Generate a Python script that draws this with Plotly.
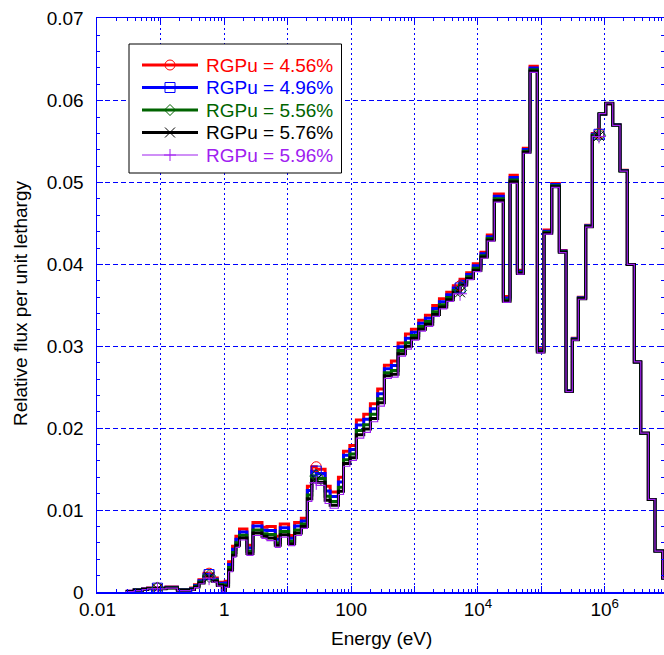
import plotly.graph_objects as go

# group boundaries, log10(E / eV)
log_energy_bounds = [-1.555, -1.42, -1.29, -1.21, -1.055, -0.92, -0.74, -0.53, -0.47, -0.40,
                     -0.32, -0.24, -0.19, -0.11, -0.03, 0.014, 0.067, 0.130, 0.183, 0.240,
                     0.357, 0.452, 0.594, 0.673, 0.804, 0.883, 1.014, 1.109, 1.215, 1.31,
                     1.38, 1.45, 1.59, 1.67, 1.80, 1.88, 1.98, 2.083, 2.199, 2.304,
                     2.419, 2.525, 2.635, 2.741, 2.857, 2.951, 3.066, 3.172, 3.287, 3.393,
                     3.508, 3.612, 3.718, 3.823, 3.927, 4.048, 4.148, 4.259, 4.401, 4.507,
                     4.622, 4.716, 4.822, 4.937, 5.043, 5.164, 5.284, 5.39, 5.489, 5.584,
                     5.700, 5.804, 5.910, 6.016, 6.126, 6.241, 6.356, 6.467, 6.568, 6.688,
                     6.793, 6.914, 7.30]

rgpu_456 = [0.0001, 0.0003, 0.0004, 0.0005, 0.0005, 0.0006, 0.0003, 0.0005, 0.0009, 0.0015,
            0.0023, 0.0022, 0.0017, 0.0012, 0.0003, 0.0013, 0.0037, 0.0056, 0.0068, 0.0077,
            0.0057, 0.0085, 0.0079, 0.0080, 0.0068, 0.0083, 0.0069, 0.0085, 0.0090, 0.0129,
            0.0153, 0.0150, 0.0129, 0.0122, 0.0140, 0.0172, 0.0179, 0.0210, 0.0217, 0.0230,
            0.0248, 0.0277, 0.0282, 0.0304, 0.0315, 0.0321, 0.0332, 0.0338, 0.0350, 0.0358,
            0.0366, 0.0374, 0.0382, 0.0390, 0.0401, 0.0415, 0.0436, 0.0486, 0.0361, 0.0509,
            0.0393, 0.0542, 0.0642, 0.0297, 0.0442, 0.0499, 0.0417, 0.0246, 0.0310, 0.0360,
            0.0448, 0.0560, 0.0583, 0.0596, 0.0571, 0.0515, 0.0400, 0.0281, 0.0194, 0.0113,
            0.0050, 0.0017]

rgpu_496 = [0.00008, 0.00027, 0.00037, 0.00047, 0.00047, 0.00057, 0.00027, 0.00043, 0.00080, 0.00136,
            0.00213, 0.00203, 0.00156, 0.00106, 0.00023, 0.00110, 0.00336, 0.00523, 0.00643, 0.00733,
            0.00536, 0.00806, 0.00753, 0.00752, 0.00643, 0.00786, 0.00656, 0.00806, 0.00866, 0.01239,
            0.01476, 0.01446, 0.01232, 0.01166, 0.01342, 0.01669, 0.01739, 0.02039, 0.02109, 0.02239,
            0.02422, 0.02726, 0.02766, 0.02996, 0.03099, 0.03173, 0.03283, 0.03343, 0.03463, 0.03546,
            0.03629, 0.03713, 0.03796, 0.03876, 0.03983, 0.04130, 0.04340, 0.04833, 0.03590, 0.05063,
            0.03916, 0.05403, 0.06400, 0.02956, 0.04406, 0.04976, 0.04163, 0.02457, 0.03093, 0.03593,
            0.04473, 0.05590, 0.05834, 0.05963, 0.05707, 0.05147, 0.0400, 0.0281, 0.0194, 0.0113,
            0.0050, 0.0017]

rgpu_556 = [0.00006, 0.00023, 0.00033, 0.00043, 0.00043, 0.00053, 0.00023, 0.00036, 0.00069, 0.00122,
            0.00195, 0.00185, 0.00142, 0.00092, 0.00016, 0.00087, 0.00299, 0.00482, 0.00602, 0.00692,
            0.00499, 0.00758, 0.00712, 0.00701, 0.00602, 0.00738, 0.00619, 0.00758, 0.00829, 0.01184,
            0.01416, 0.01386, 0.01169, 0.01106, 0.01279, 0.01614, 0.01684, 0.01972, 0.02042, 0.02172,
            0.02359, 0.02678, 0.02706, 0.02948, 0.03044, 0.03132, 0.03242, 0.03302, 0.03422, 0.03509,
            0.03596, 0.03683, 0.03770, 0.03850, 0.03953, 0.04107, 0.04317, 0.04803, 0.03567, 0.05033,
            0.03902, 0.05384, 0.06377, 0.02942, 0.04392, 0.04962, 0.04156, 0.02453, 0.03086, 0.03586,
            0.04466, 0.05579, 0.05837, 0.05967, 0.05703, 0.05143, 0.0400, 0.0281, 0.0194, 0.0113,
            0.0050, 0.0017]

rgpu_576 = [0.00005, 0.0002, 0.0003, 0.0004, 0.0004, 0.0005, 0.0002, 0.0003, 0.0006, 0.0011,
            0.0018, 0.0017, 0.0013, 0.0008, 0.0001, 0.0007, 0.0027, 0.0045, 0.0057, 0.0066,
            0.0047, 0.0072, 0.0068, 0.0066, 0.0057, 0.0070, 0.0059, 0.0072, 0.0080, 0.0114,
            0.0137, 0.0134, 0.0112, 0.0106, 0.0123, 0.0157, 0.0164, 0.0192, 0.0199, 0.0212,
            0.0231, 0.0264, 0.0266, 0.0291, 0.0300, 0.0310, 0.0321, 0.0327, 0.0339, 0.0348,
            0.0357, 0.0366, 0.0375, 0.0383, 0.0393, 0.0409, 0.0430, 0.0478, 0.0355, 0.0501,
            0.0389, 0.0537, 0.0636, 0.0293, 0.0438, 0.0495, 0.0415, 0.0245, 0.0308, 0.0358,
            0.0446, 0.0557, 0.0584, 0.0597, 0.0570, 0.0514, 0.0400, 0.0281, 0.0194, 0.0113,
            0.0050, 0.0017]

rgpu_596 = [0.00004, 0.00018, 0.00028, 0.00038, 0.00038, 0.00048, 0.00018, 0.00025, 0.00054, 0.00101,
            0.00169, 0.00159, 0.00121, 0.00071, 0.00005, 0.00056, 0.00247, 0.00425, 0.00545, 0.00635,
            0.00447, 0.00690, 0.00655, 0.00628, 0.00545, 0.00670, 0.00567, 0.00690, 0.00777, 0.01106,
            0.01333, 0.01303, 0.01081, 0.01023, 0.01191, 0.01536, 0.01606, 0.01879, 0.01949, 0.02079,
            0.02271, 0.02610, 0.02623, 0.02880, 0.02966, 0.03075, 0.03185, 0.03245, 0.03365, 0.03457,
            0.03549, 0.03642, 0.03734, 0.03814, 0.03912, 0.04076, 0.04286, 0.04762, 0.03536, 0.04992,
            0.03881, 0.05358, 0.06346, 0.02921, 0.04371, 0.04941, 0.04145, 0.02448, 0.03075, 0.03575,
            0.04455, 0.05563, 0.05842, 0.05972, 0.05699, 0.05139, 0.0400, 0.0281, 0.0194, 0.0113,
            0.0050, 0.0017]

series_names = ["RGPu = 4.56%", "RGPu = 4.96%", "RGPu = 5.56%", "RGPu = 5.76%", "RGPu = 5.96%"]
series_values = [rgpu_456, rgpu_496, rgpu_556, rgpu_576, rgpu_596]
series_colors = ["#ff0000", "#0000ff", "#006400", "#000000", "#a020f0"]
series_widths = [3, 3, 3, 3, 1.2]
series_symbols = ["circle-open", "square-open", "diamond-open", "x-thin-open", "cross-thin-open"]
marker_groups = [3, 10, 30, 51, 71]

x_tick_vals = [0.01, 0.1, 1, 10, 100, 1e3, 1e4, 1e5, 1e6]
x_tick_text = ["0.01", "", "1", "", "100", "", "10<sup>4</sup>", "", "10<sup>6</sup>"]
y_tick_vals = [0, 0.01, 0.02, 0.03, 0.04, 0.05, 0.06, 0.07]
y_tick_text = ["0", "0.01", "0.02", "0.03", "0.04", "0.05", "0.06", "0.07"]

W, H = 664, 655
L, R, T, B = 97, 0, 18, 63
FONT = "Liberation Sans, Arial, sans-serif"
BLUE = "#0000ff"

energy = [10 ** b for b in log_energy_bounds]

fig = go.Figure()
for vals, col, w in zip(series_values, series_colors, series_widths):
    fig.add_trace(go.Scatter(x=energy, y=vals + [vals[-1]], mode="lines",
                             line=dict(color=col, width=w, shape="hv"),
                             showlegend=False, hoverinfo="skip"))
for vals, col, sym in zip(series_values, series_colors, series_symbols):
    fig.add_trace(go.Scatter(x=[energy[i + 1] for i in marker_groups],
                             y=[vals[i] for i in marker_groups], mode="markers",
                             marker=dict(symbol=sym, size=10, color=col,
                                         line=dict(color=col, width=1)),
                             showlegend=False, hoverinfo="skip"))

minor_x = [m * 10 ** d for d in range(-2, 7) for m in range(2, 10)]

fig.update_xaxes(type="log", range=[-2.008, 6.935], tickmode="array",
                 tickvals=x_tick_vals, ticktext=x_tick_text, automargin=False,
                 showgrid=True, gridcolor=BLUE, gridwidth=1, griddash="2px,3px",
                 showline=True, linecolor=BLUE, linewidth=1.5, mirror="ticks",
                 ticks="inside", ticklen=6, tickcolor=BLUE, zeroline=False,
                 tickfont=dict(family=FONT, size=19, color="black"),
                 ticklabelstandoff=0,
                 minor=dict(tickvals=minor_x, ticks="inside", ticklen=3,
                            tickcolor=BLUE, showgrid=False))
fig.update_yaxes(range=[0, 0.0701], tickmode="array", tickvals=y_tick_vals,
                 ticktext=y_tick_text, automargin=False,
                 showgrid=True, gridcolor=BLUE, gridwidth=1, griddash="5px,3px",
                 showline=True, linecolor=BLUE, linewidth=1.5, mirror="ticks",
                 ticks="inside", ticklen=6, tickcolor=BLUE, zeroline=False,
                 tickfont=dict(family=FONT, size=19, color="black"),
                 ticklabelstandoff=8,
                 minor=dict(tickvals=[k * 0.002 for k in range(36)], ticks="inside", ticklen=3,
                            tickcolor=BLUE, showgrid=False))


def px_x(px):
    return (px - L) / (W - L - R)


def px_y(py):
    return (H - B - py) / (H - T - B)


def path(segments):
    out = ""
    for seg in segments:
        for k, (a, b) in enumerate(seg):
            out += ("M" if k == 0 else "L") + f"{px_x(a):.5f},{px_y(b):.5f} "
    return out


shapes = [dict(type="rect", xref="paper", yref="paper", x0=px_x(129), x1=px_x(341.5),
               y0=px_y(173), y1=px_y(44), line=dict(color="black", width=1),
               fillcolor="white", layer="above")]
annotations = []
rows = [65, 87.5, 110, 132.5, 155]
for k, (name, col, w, sym) in enumerate(zip(series_names, series_colors, series_widths, series_symbols)):
    cy = rows[k]
    cx = 170
    shapes.append(dict(type="line", xref="paper", yref="paper", x0=px_x(142), x1=px_x(198),
                       y0=px_y(cy), y1=px_y(cy), line=dict(color=col, width=w), layer="above"))
    r = 5
    mline = dict(color=col, width=1)
    if sym == "circle-open":
        shapes.append(dict(type="circle", xref="paper", yref="paper", x0=px_x(cx - r), x1=px_x(cx + r),
                           y0=px_y(cy + r), y1=px_y(cy - r), line=mline, layer="above"))
    elif sym == "square-open":
        shapes.append(dict(type="rect", xref="paper", yref="paper", x0=px_x(cx - r), x1=px_x(cx + r),
                           y0=px_y(cy + r), y1=px_y(cy - r), line=mline, layer="above"))
    elif sym == "diamond-open":
        shapes.append(dict(type="path", xref="paper", yref="paper", layer="above", line=mline,
                           path=path([[(cx, cy - 5.5), (cx + 5.5, cy), (cx, cy + 5.5), (cx - 5.5, cy)]]) + "Z"))
    elif sym == "x-thin-open":
        shapes.append(dict(type="path", xref="paper", yref="paper", layer="above", line=mline,
                           path=path([[(cx - r, cy - r), (cx + r, cy + r)], [(cx - r, cy + r), (cx + r, cy - r)]])))
    else:
        shapes.append(dict(type="path", xref="paper", yref="paper", layer="above", line=mline,
                           path=path([[(cx - 6, cy), (cx + 6, cy)], [(cx, cy - 6), (cx, cy + 6)]])))
    annotations.append(dict(text=name, xref="paper", yref="paper", x=px_x(204), y=px_y(cy),
                            xanchor="left", yanchor="middle", showarrow=False,
                            font=dict(family=FONT, size=19, color=col)))

annotations.append(dict(text="Energy (eV)", xref="paper", yref="paper", x=px_x(381), y=px_y(638),
                        xanchor="center", yanchor="middle", showarrow=False,
                        font=dict(family=FONT, size=19, color="black")))
annotations.append(dict(text="Relative flux per unit lethargy", xref="paper", yref="paper",
                        x=px_x(20), y=px_y(303), xanchor="center", yanchor="middle",
                        textangle=-90, showarrow=False,
                        font=dict(family=FONT, size=19, color="black")))

fig.update_layout(width=W, height=H, margin=dict(l=L, r=R, t=T, b=B, autoexpand=False),
                  plot_bgcolor="white", paper_bgcolor="white",
                  shapes=shapes, annotations=annotations, showlegend=False)

fig.write_html("out.html", config={"displayModeBar": False, "staticPlot": True},
               post_script="document.body.style.margin='0';document.body.style.padding='0';"
                           "document.body.style.overflow='hidden';")
